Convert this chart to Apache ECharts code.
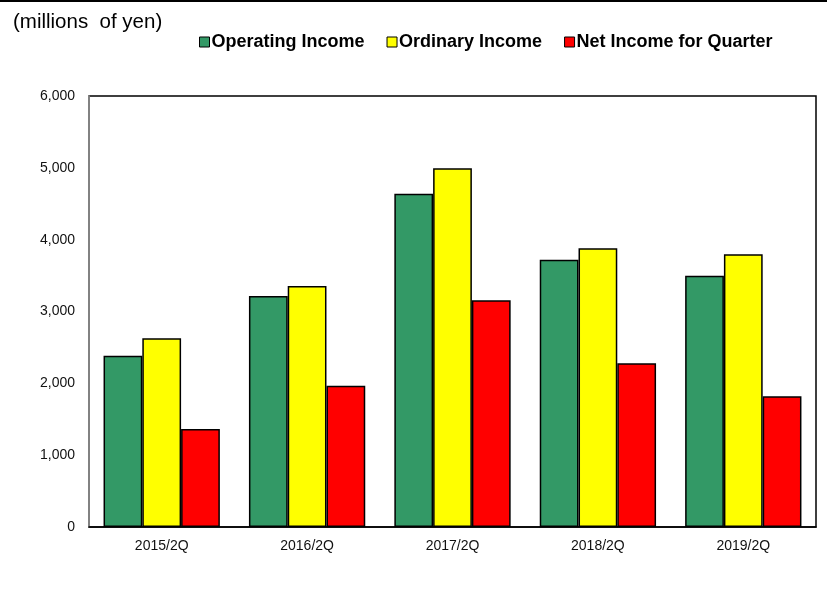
<!DOCTYPE html>
<html>
<head>
<meta charset="utf-8">
<script src="https://cdn.jsdelivr.net/npm/echarts@6/dist/echarts.min.js"></script>
<style>
  html, body { margin: 0; padding: 0; background: #fff; }
  #main { width: 827px; height: 591px; }
</style>
</head>
<body>
<div id="main"></div>
<script>
// 区分
var categories = ['2015/2Q', '2016/2Q', '2017/2Q', '2018/2Q', '2019/2Q'];
var operatingIncome = [2385, 3217, 4640, 3721, 3499];
var ordinaryIncome = [2627, 3355, 4993, 3880, 3796];
var netIncome = [1364, 1967, 3156, 2279, 1819];

var myChart = echarts.init(document.getElementById('main'));

function barSeries(name, data, color) {
    return {
        name: name,
        type: 'bar',
        data: data,
        barGap: '0%',
        barCategoryGap: '20%',
        itemStyle: { color: color, borderColor: '#000', borderWidth: 1.5 }
    };
}

myChart.setOption({
    animation: false,
    title: {
        text: '(millions  of yen)',
        left: 8,
        top: 7,
        textStyle: { fontFamily: 'Liberation Sans', fontSize: 20.5, fontWeight: 'normal', color: '#000' }
    },
    legend: {
        left: 194,
        top: 28,
        icon: 'rect',
        itemWidth: 10,
        itemHeight: 10,
        itemGap: 22,
        textStyle: { fontFamily: 'Liberation Sans', fontSize: 18, fontWeight: 'bold', color: '#000', padding: [0, 0, 0, -3] },
        data: [
            { name: 'Operating Income', itemStyle: { borderColor: '#000', borderWidth: 1 } },
            { name: 'Ordinary Income', itemStyle: { borderColor: '#000', borderWidth: 1 } },
            { name: 'Net Income for Quarter', itemStyle: { borderColor: '#000', borderWidth: 1 } }
        ]
    },
    grid: {
        left: 89, right: 11, top: 96, bottom: 64,
        show: true, borderColor: '#000', borderWidth: 1.5
    },
    xAxis: {
        type: 'category',
        data: categories,
        axisLine: { lineStyle: { color: '#000', width: 1.5 } },
        axisTick: { show: false },
        axisLabel: { fontFamily: 'Liberation Sans', fontSize: 14, color: '#111', margin: 12 }
    },
    yAxis: {
        type: 'value',
        min: 0,
        max: 6000,
        interval: 1000,
        axisLine: { show: true, lineStyle: { color: '#999', width: 1.5 } },
        axisTick: { show: false },
        splitLine: { show: false },
        axisLabel: {
            fontFamily: 'Liberation Sans', fontSize: 14, color: '#111', margin: 14,
            formatter: function (v) { return v.toLocaleString('en-US'); }
        }
    },
    graphic: [{
        type: 'line',
        shape: { x1: 0, y1: 1, x2: 827, y2: 1 },
        style: { stroke: '#000', lineWidth: 2 }
    }],
    series: [
        barSeries('Operating Income', operatingIncome, '#339966'),
        barSeries('Ordinary Income', ordinaryIncome, '#FFFF00'),
        barSeries('Net Income for Quarter', netIncome, '#FF0000')
    ]
});
</script>
</body>
</html>
